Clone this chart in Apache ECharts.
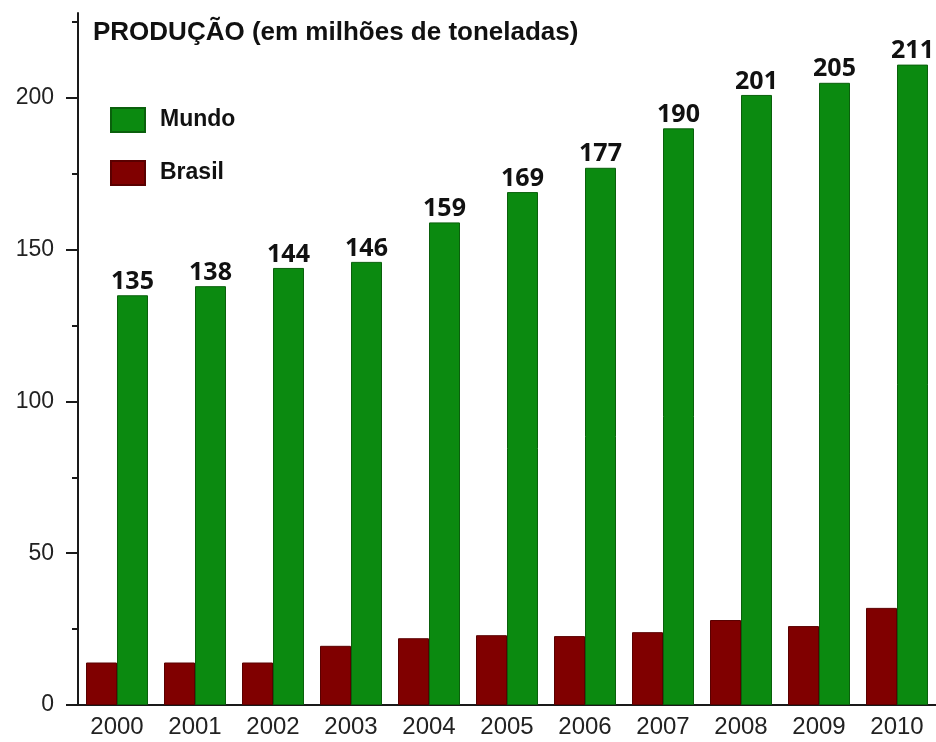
<!DOCTYPE html>
<html>
<head>
<meta charset="utf-8">
<script src="https://cdn.jsdelivr.net/npm/echarts@6/dist/echarts.min.js"></script>
<style>
  html, body { margin: 0; padding: 0; background: #fff; }
  #chart { width: 936px; height: 742px; }
</style>
</head>
<body>
<div id="chart"></div>
<script>
const years = ['2000', '2001', '2002', '2003', '2004', '2005', '2006', '2007', '2008', '2009', '2010'];
const mundo = [135, 138, 144, 146, 159, 169, 177, 190, 201, 205, 211];
const brasil = [14, 14, 14, 19.5, 22, 23, 22.7, 24, 28, 26, 32];
const majorTicks = [0, 50, 100, 150, 200];
const minorTicks = [25, 75, 125, 175, 225];

const chart = echarts.init(document.getElementById('chart'));

const axisColor = '#1a1a1a';

chart.setOption({
    animation: false,
    title: {
        text: 'PRODUÇÃO (em milhões de toneladas)',
        left: 93,
        top: 20,
        padding: 0,
        textStyle: {
            fontFamily: 'Liberation Sans',
            fontSize: 26,
            fontWeight: 'bold',
            color: '#111'
        }
    },
    legend: {
        orient: 'vertical',
        left: 110,
        top: 107,
        padding: 0,
        itemWidth: 34,
        itemHeight: 24,
        itemGap: 27,
        icon: 'rect',
        textStyle: {
            fontFamily: 'Liberation Sans',
            fontSize: 23,
            lineHeight: 24,
            fontWeight: 'bold',
            color: '#111',
            padding: [0, 0, 0, 10]
        },
        data: ['Mundo', 'Brasil']
    },
    grid: {
        left: 78,
        right: 0,
        top: 13,
        bottom: 37
    },
    xAxis: {
        type: 'category',
        data: years,
        axisLine: { lineStyle: { color: axisColor, width: 2 } },
        axisTick: { show: false },
        axisLabel: {
            fontFamily: 'Liberation Sans',
            fontSize: 24,
            color: '#222',
            margin: 10
        }
    },
    yAxis: [{
        type: 'value',
        min: 0,
        max: 228,
        splitLine: { show: false },
        axisLine: { show: true, lineStyle: { color: axisColor, width: 2 } },
        axisTick: {
            show: true,
            length: 12,
            customValues: majorTicks,
            lineStyle: { color: axisColor, width: 2 }
        },
        axisLabel: {
            customValues: majorTicks,
            fontFamily: 'Liberation Sans',
            fontSize: 23,
            color: '#222',
            margin: 24
        }
    }, {
        type: 'value',
        position: 'left',
        min: 0,
        max: 228,
        splitLine: { show: false },
        axisLine: { show: false },
        axisTick: {
            show: true,
            length: 6,
            customValues: minorTicks,
            lineStyle: { color: axisColor, width: 2 }
        },
        axisLabel: { show: false }
    }],
    series: [{
        name: 'Brasil',
        type: 'bar',
        data: brasil,
        barWidth: 31,
        barGap: '0%',
        itemStyle: { color: '#800000', borderColor: '#5a0000', borderWidth: 1 }
    }, {
        name: 'Mundo',
        type: 'bar',
        data: mundo,
        barWidth: 31,
        barGap: '0%',
        itemStyle: { color: '#0b8a10', borderColor: '#0a600c', borderWidth: 1 },
        label: {
            show: true,
            position: 'top',
            distance: 1,
            fontFamily: 'Open Sans',
            fontWeight: 'bold',
            fontSize: 25,
            color: '#111'
        }
    }]
});
</script>
</body>
</html>
